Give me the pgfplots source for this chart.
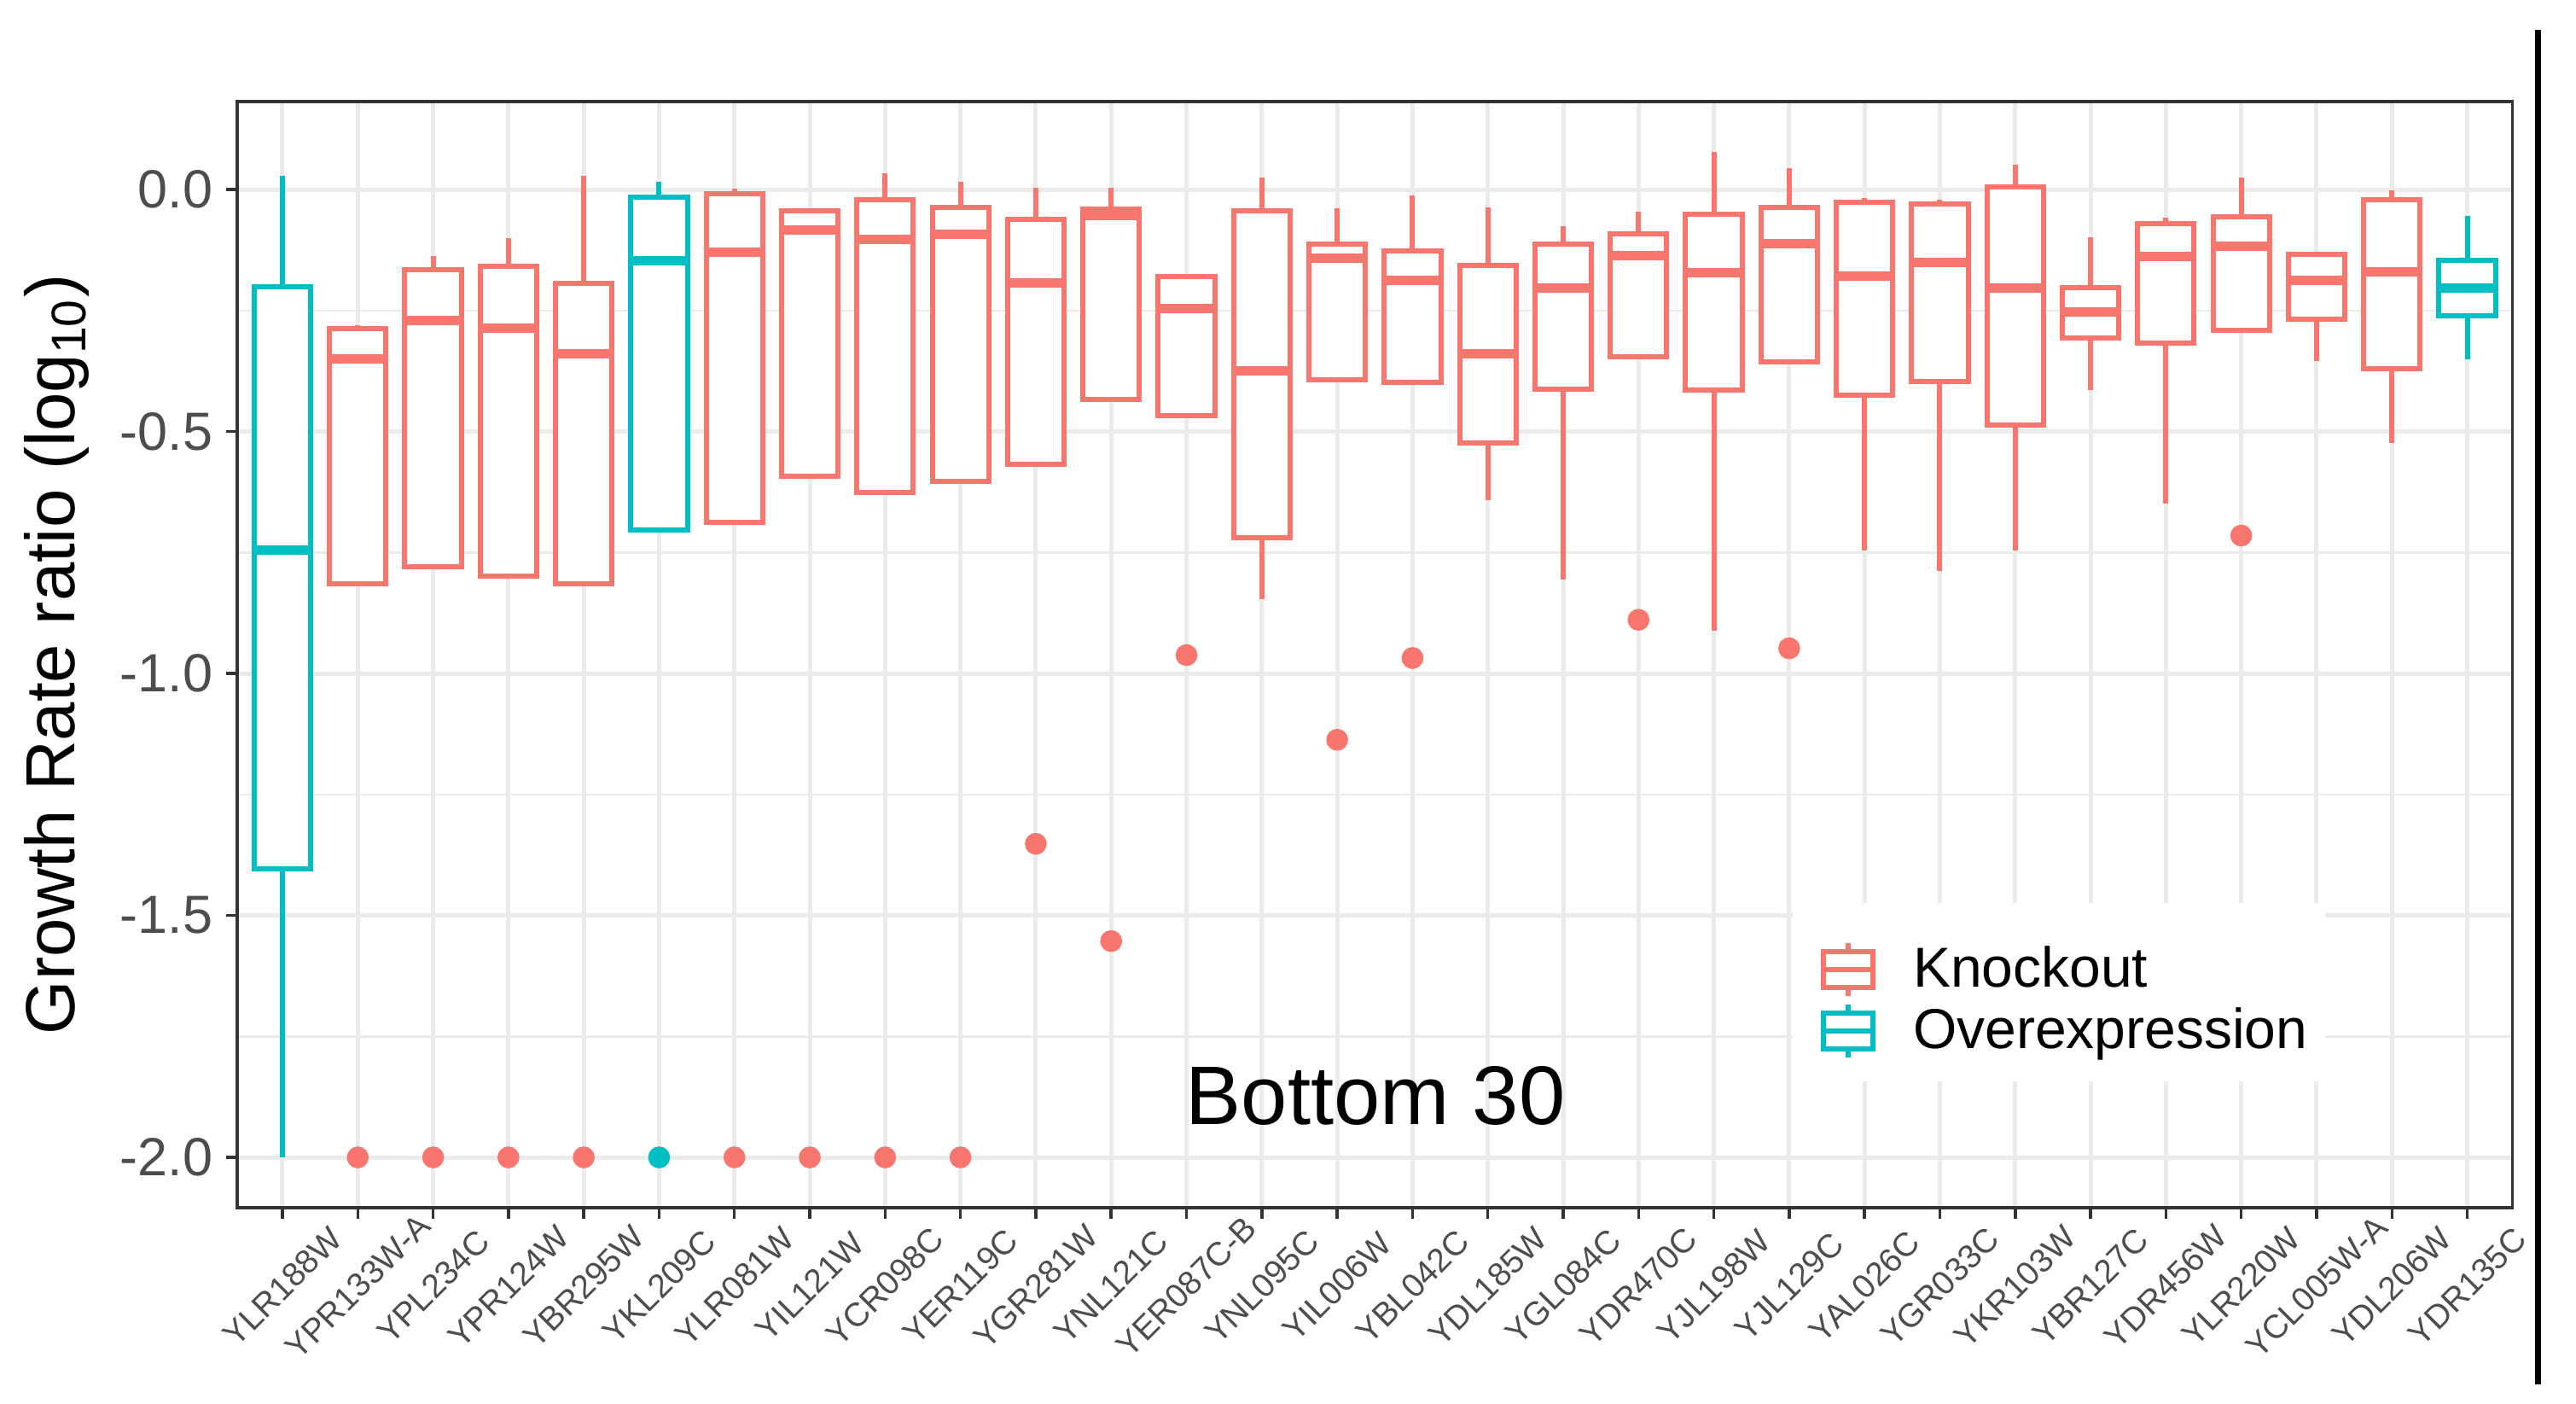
\documentclass[border=0pt]{standalone}
\usepackage{fontspec}
\setmainfont{Liberation Sans}
\usepackage{pgfplots}
\pgfplotsset{compat=1.18}
\usepgfplotslibrary{statistics}

\definecolor{ko}{HTML}{F8766D}
\definecolor{ov}{HTML}{00BFC4}
\definecolor{gridc}{HTML}{EBEBEB}
\definecolor{grey20}{HTML}{333333}
\definecolor{grey30}{HTML}{4D4D4D}

\pgfplotsset{
  koplot/.style={forget plot, draw=ko, line width=1.2pt, mark=*, mark size=1.95pt,
    mark options={fill=ko, draw=none}},
  ovplot/.style={forget plot, draw=ov, line width=1.2pt, mark=*, mark size=1.95pt,
    mark options={fill=ov, draw=none}},
  kolegend/.style={legend image code/.code={
    \draw[ko, line width=1.2pt] (5.8pt,6.2pt) -- (5.8pt,4.2pt) (5.8pt,-4.2pt) -- (5.8pt,-6.2pt);
    \draw[ko, line width=1.2pt, fill=white] (0pt,-4.2pt) rectangle (11.6pt,4.2pt);
    \draw[ko, line width=1.2pt] (0pt,0pt) -- (11.6pt,0pt);}},
  ovlegend/.style={legend image code/.code={
    \draw[ov, line width=1.2pt] (5.8pt,6.2pt) -- (5.8pt,4.2pt) (5.8pt,-4.2pt) -- (5.8pt,-6.2pt);
    \draw[ov, line width=1.2pt, fill=white] (0pt,-4.2pt) rectangle (11.6pt,4.2pt);
    \draw[ov, line width=1.2pt] (0pt,0pt) -- (11.6pt,0pt);}},
}

\begin{document}
\begin{tikzpicture}
\begin{axis}[
  scale only axis,
  width=533.3pt, height=259.2pt,
  xmin=-0.6, xmax=29.6,
  ymin=-2.104, ymax=0.182,
  xtick={0,...,29},
  xticklabels={YLR188W,YPR133W-A,YPL234C,YPR124W,YBR295W,YKL209C,YLR081W,YIL121W,YCR098C,YER119C,YGR281W,YNL121C,YER087C-B,YNL095C,YIL006W,YBL042C,YDL185W,YGL084C,YDR470C,YJL198W,YJL129C,YAL026C,YGR033C,YKR103W,YBR127C,YDR456W,YLR220W,YCL005W-A,YDL206W,YDR135C},
  ytick={-2,-1.5,-1,-0.5,0},
  yticklabels={-2.0,-1.5,-1.0,-0.5,0.0},
  minor ytick={-1.75,-1.25,-0.75,-0.25},
  xmajorgrids, ymajorgrids, yminorgrids,
  major grid style={gridc, line width=1pt},
  minor grid style={gridc, line width=0.5pt},
  tick pos=left, tick align=outside,
  major tick length=2.5pt, minor tick length=0pt,
  tick style={grey20, line width=0.7pt},
  axis line style={grey20, line width=0.7pt},
  yticklabel style={font=\fontsize{12.6}{15}\selectfont, text=grey30, inner sep=0pt, xshift=-3pt},
  xticklabel style={font=\fontsize{7.8}{9}\selectfont, text=grey30, inner sep=0pt,
    yshift=-16pt, rotate=45, anchor=center},
  ylabel={Growth Rate ratio (log\textsubscript{10})},
  ylabel style={font=\fontsize{16.3}{19}\selectfont, inner sep=0pt, at={(rel axis cs:-0.0941,0.5)}, anchor=north},
  boxplot/draw direction=y,
  boxplot/box extend=0.75,
  boxplot/whisker extend=0,
  boxplot/every box/.style={fill=white},
  boxplot/every median/.style={line width=2.2pt},
  legend style={at={(0.6957,0.1875)}, anchor=west, draw=none, fill=none,
    inner sep=0pt, row sep=0.8pt, font=\fontsize{13.2}{15.6}\selectfont,
    nodes={inner sep=0pt}, /tikz/every odd column/.append style={column sep=8.8pt}},
  legend cell align=left,
]
% draw position, lower whisker, lower quartile, median, upper quartile, upper whisker; outliers as coordinates
\addplot[ovplot, boxplot prepared={draw position=0, lower whisker=-2.000, lower quartile=-1.403, median=-0.745, upper quartile=-0.201, upper whisker=0.029}] coordinates {};
\addplot[koplot, boxplot prepared={draw position=1, lower whisker=-0.814, lower quartile=-0.814, median=-0.350, upper quartile=-0.287, upper whisker=-0.280}] coordinates {(1,-2.0)};
\addplot[koplot, boxplot prepared={draw position=2, lower whisker=-0.779, lower quartile=-0.779, median=-0.271, upper quartile=-0.165, upper whisker=-0.138}] coordinates {(2,-2.0)};
\addplot[koplot, boxplot prepared={draw position=3, lower whisker=-0.798, lower quartile=-0.798, median=-0.287, upper quartile=-0.158, upper whisker=-0.101}] coordinates {(3,-2.0)};
\addplot[koplot, boxplot prepared={draw position=4, lower whisker=-0.814, lower quartile=-0.814, median=-0.340, upper quartile=-0.194, upper whisker=0.029}] coordinates {(4,-2.0)};
\addplot[ovplot, boxplot prepared={draw position=5, lower whisker=-0.704, lower quartile=-0.704, median=-0.147, upper quartile=-0.016, upper whisker=0.016}] coordinates {(5,-2.0)};
\addplot[koplot, boxplot prepared={draw position=6, lower whisker=-0.688, lower quartile=-0.688, median=-0.129, upper quartile=-0.008, upper whisker=0.002}] coordinates {(6,-2.0)};
\addplot[koplot, boxplot prepared={draw position=7, lower whisker=-0.593, lower quartile=-0.593, median=-0.083, upper quartile=-0.043, upper whisker=-0.043}] coordinates {(7,-2.0)};
\addplot[koplot, boxplot prepared={draw position=8, lower whisker=-0.626, lower quartile=-0.626, median=-0.103, upper quartile=-0.020, upper whisker=0.033}] coordinates {(8,-2.0)};
\addplot[koplot, boxplot prepared={draw position=9, lower whisker=-0.603, lower quartile=-0.603, median=-0.093, upper quartile=-0.036, upper whisker=0.016}] coordinates {(9,-2.0)};
\addplot[koplot, boxplot prepared={draw position=10, lower whisker=-0.567, lower quartile=-0.567, median=-0.192, upper quartile=-0.062, upper whisker=0.003}] coordinates {(10,-1.352)};
\addplot[koplot, boxplot prepared={draw position=11, lower whisker=-0.433, lower quartile=-0.433, median=-0.054, upper quartile=-0.040, upper whisker=0.003}] coordinates {(11,-1.553)};
\addplot[koplot, boxplot prepared={draw position=12, lower whisker=-0.467, lower quartile=-0.467, median=-0.246, upper quartile=-0.180, upper whisker=-0.175}] coordinates {(12,-0.962)};
\addplot[koplot, boxplot prepared={draw position=13, lower whisker=-0.846, lower quartile=-0.720, median=-0.374, upper quartile=-0.044, upper whisker=0.025}] coordinates {};
\addplot[koplot, boxplot prepared={draw position=14, lower whisker=-0.393, lower quartile=-0.393, median=-0.141, upper quartile=-0.113, upper whisker=-0.038}] coordinates {(14,-1.137)};
\addplot[koplot, boxplot prepared={draw position=15, lower whisker=-0.399, lower quartile=-0.399, median=-0.188, upper quartile=-0.127, upper whisker=-0.012}] coordinates {(15,-0.968)};
\addplot[koplot, boxplot prepared={draw position=16, lower whisker=-0.641, lower quartile=-0.524, median=-0.340, upper quartile=-0.156, upper whisker=-0.036}] coordinates {};
\addplot[koplot, boxplot prepared={draw position=17, lower whisker=-0.806, lower quartile=-0.412, median=-0.204, upper quartile=-0.113, upper whisker=-0.075}] coordinates {};
\addplot[koplot, boxplot prepared={draw position=18, lower whisker=-0.346, lower quartile=-0.346, median=-0.137, upper quartile=-0.091, upper whisker=-0.046}] coordinates {(18,-0.889)};
\addplot[koplot, boxplot prepared={draw position=19, lower whisker=-0.911, lower quartile=-0.415, median=-0.171, upper quartile=-0.050, upper whisker=0.078}] coordinates {};
\addplot[koplot, boxplot prepared={draw position=20, lower whisker=-0.356, lower quartile=-0.356, median=-0.111, upper quartile=-0.036, upper whisker=0.045}] coordinates {(20,-0.948)};
\addplot[koplot, boxplot prepared={draw position=21, lower whisker=-0.745, lower quartile=-0.425, median=-0.178, upper quartile=-0.026, upper whisker=-0.017}] coordinates {};
\addplot[koplot, boxplot prepared={draw position=22, lower whisker=-0.788, lower quartile=-0.397, median=-0.151, upper quartile=-0.030, upper whisker=-0.021}] coordinates {};
\addplot[koplot, boxplot prepared={draw position=23, lower whisker=-0.745, lower quartile=-0.486, median=-0.204, upper quartile=0.006, upper whisker=0.051}] coordinates {};
\addplot[koplot, boxplot prepared={draw position=24, lower whisker=-0.415, lower quartile=-0.306, median=-0.253, upper quartile=-0.202, upper whisker=-0.099}] coordinates {};
\addplot[koplot, boxplot prepared={draw position=25, lower whisker=-0.648, lower quartile=-0.317, median=-0.139, upper quartile=-0.071, upper whisker=-0.058}] coordinates {};
\addplot[koplot, boxplot prepared={draw position=26, lower whisker=-0.291, lower quartile=-0.291, median=-0.117, upper quartile=-0.056, upper whisker=0.025}] coordinates {(26,-0.715)};
\addplot[koplot, boxplot prepared={draw position=27, lower whisker=-0.355, lower quartile=-0.267, median=-0.188, upper quartile=-0.134, upper whisker=-0.134}] coordinates {};
\addplot[koplot, boxplot prepared={draw position=28, lower whisker=-0.524, lower quartile=-0.370, median=-0.170, upper quartile=-0.020, upper whisker=-0.002}] coordinates {};
\addplot[ovplot, boxplot prepared={draw position=29, lower whisker=-0.351, lower quartile=-0.261, median=-0.204, upper quartile=-0.146, upper whisker=-0.054}] coordinates {};

% legend background
\fill[white] (axis cs:20.05,-1.474) rectangle (axis cs:27.11,-1.843);
\addlegendimage{kolegend}
\addlegendentry{Knockout}
\addlegendimage{ovlegend}
\addlegendentry{Overexpression}

\node[font=\fontsize{19.5}{23}\selectfont] at (axis cs:14.51,-1.872) {Bottom 30};
\end{axis}
\draw[line width=1.4pt] (539.2pt,-41.4pt) -- (539.2pt,276pt);
\path (-55.6pt,-45.8pt) rectangle (548.2pt,283pt);
\end{tikzpicture}
\end{document}
